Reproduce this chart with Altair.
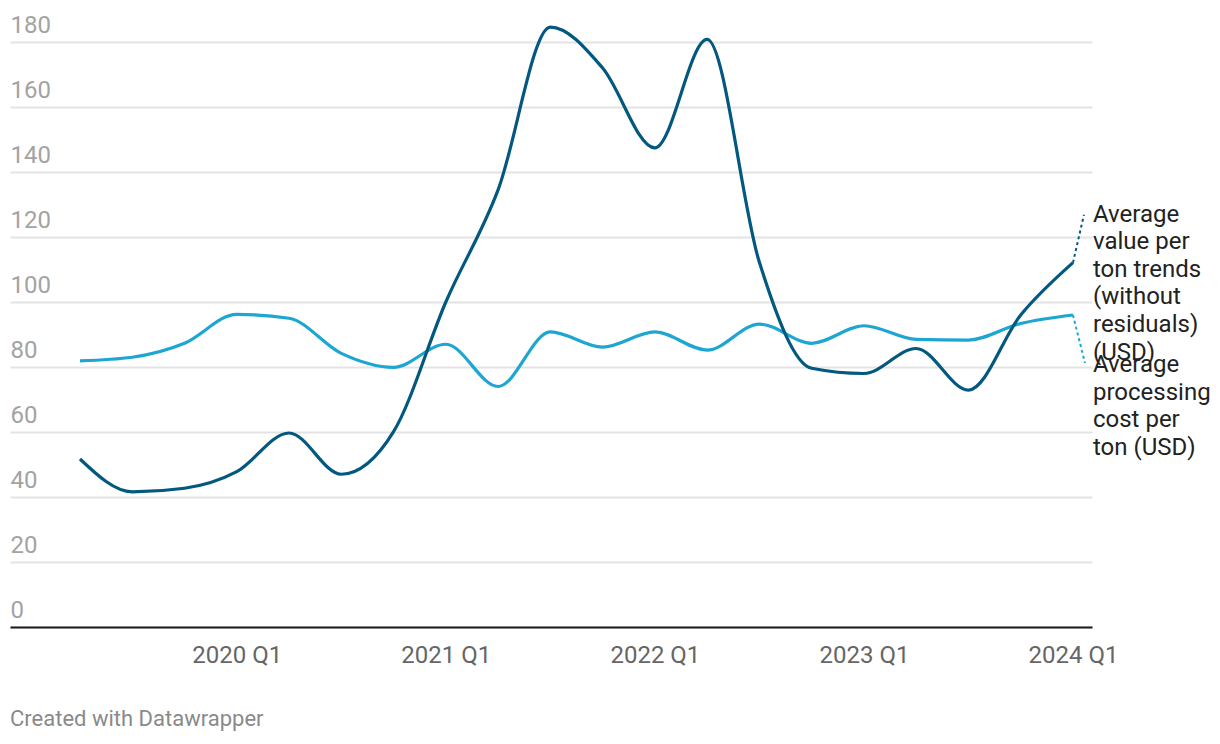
import altair as alt
import pandas as pd

quarters = ["2019 Q2", "2019 Q3", "2019 Q4", "2020 Q1", "2020 Q2", "2020 Q3", "2020 Q4",
            "2021 Q1", "2021 Q2", "2021 Q3", "2021 Q4", "2022 Q1", "2022 Q2", "2022 Q3",
            "2022 Q4", "2023 Q1", "2023 Q2", "2023 Q3", "2023 Q4", "2024 Q1"]

value_per_ton = [51.7, 41.6, 42.7, 47.8, 59.7, 47.0, 60.1, 100.0, 134.5, 184.6,
                 172.0, 147.4, 180.8, 112.2, 79.6, 78.0, 85.7, 72.9, 96.0, 112.1]

processing_cost = [81.9, 83.0, 87.3, 96.2, 95.0, 84.2, 79.9, 87.0, 74.0, 90.8,
                   86.1, 90.8, 85.2, 93.2, 87.3, 92.7, 88.5, 88.3, 93.4, 96.0]

series_names = ["Average value per ton trends (without residuals) (USD)",
                "Average processing cost per ton (USD)"]
series_labels = [["Average", "value per", "ton trends", "(without", "residuals)", "(USD)"],
                 ["Average", "processing", "cost per", "ton (USD)"]]
tick_labels = ["2020 Q1", "2021 Q1", "2022 Q1", "2023 Q1", "2024 Q1"]
y_ticks = [0, 20, 40, 60, 80, 100, 120, 140, 160, 180]

DARK = "#03587f"
LIGHT = "#1ea6d2"
FONT = "Roboto"

idx = list(range(len(quarters)))
df_val = pd.DataFrame({"i": idx, "q": quarters, "v": value_per_ton})
df_cost = pd.DataFrame({"i": idx, "q": quarters, "v": processing_cost})

tick_idx = [quarters.index(t) for t in tick_labels]
label_expr = "{" + ",".join(f"'{i}':'{t}'" for i, t in zip(tick_idx, tick_labels)) + "}[toString(datum.value)]"

W, H = 1082, 585
x_scale = alt.Scale(domain=[-1.339, 19.364], nice=False, zero=False)
y_scale = alt.Scale(domain=[0, 180], nice=False)

x_axis = alt.Axis(values=tick_idx, labelExpr=label_expr, title=None, grid=False,
                  ticks=False, tickSize=0, labelPadding=16, domain=True,
                  domainColor="#1a1a1a", domainWidth=2, labelFont=FONT,
                  labelFontSize=24, labelColor="#666666")
y_axis = alt.Axis(values=y_ticks, title=None, grid=True, gridColor="#e3e3e3",
                  gridWidth=2, domain=False, ticks=False, tickSize=0,
                  labelAlign="left", labelBaseline="alphabetic", labelPadding=0,
                  labelOffset=-10, labelFont=FONT, labelFontSize=24,
                  labelColor="#a3a3a3")

nx = alt.X("i:Q", scale=x_scale, axis=x_axis)
ny = alt.Y("v:Q", scale=y_scale, axis=y_axis)

light_line = alt.Chart(df_cost).mark_line(color=LIGHT, strokeWidth=3.2,
                                          interpolate="monotone").encode(x=nx, y=ny)
dark_line = alt.Chart(df_val).mark_line(color=DARK, strokeWidth=3.2,
                                        interpolate="monotone").encode(x=nx, y=ny)

# end labels and dotted connectors, anchored at each series' last point
px_per_i = W / (19.364 + 1.339)
px_per_v = H / 180.0
last = len(quarters) - 1
ends = pd.DataFrame({
    "i": [last, last],
    "v": [value_per_ton[-1], processing_cost[-1]],
    "i2": [last + 11 / px_per_i, last + 12 / px_per_i],
    "v2": [value_per_ton[-1] + 48 / px_per_v, processing_cost[-1] - 48 / px_per_v],
    "s": series_names,
})

conn_dark = alt.Chart(ends.iloc[[0]]).mark_rule(color=DARK, strokeWidth=2,
                                                strokeDash=[3, 3]).encode(
    x=nx, y=ny, x2="i2:Q", y2="v2:Q")
conn_light = alt.Chart(ends.iloc[[1]]).mark_rule(color=LIGHT, strokeWidth=2,
                                                 strokeDash=[3, 3]).encode(
    x=nx, y=ny, x2="i2:Q", y2="v2:Q")

lab_dark = alt.Chart(pd.DataFrame({"i": [last], "v": [value_per_ton[-1]],
                                   "t": ["\n".join(series_labels[0])]})).mark_text(
    align="left", baseline="alphabetic", dx=20, dy=-41, font=FONT, fontSize=24,
    color="#222222", lineBreak="\n", lineHeight=27.6).encode(x=nx, y=ny, text="t:N")
lab_light = alt.Chart(pd.DataFrame({"i": [last], "v": [processing_cost[-1]],
                                    "t": ["\n".join(series_labels[1])]})).mark_text(
    align="left", baseline="alphabetic", dx=20, dy=57, font=FONT, fontSize=24,
    color="#222222", lineBreak="\n", lineHeight=27.6).encode(x=nx, y=ny, text="t:N")

chart = alt.layer(light_line, dark_line, conn_dark, conn_light, lab_dark, lab_light).properties(
    width=W, height=H,
    autosize=alt.AutoSizeParams(type="none"),
    padding={"left": 10, "top": 42, "right": 128, "bottom": 117},
    background="white",
    title=alt.TitleParams(text="Created with Datawrapper", orient="bottom", anchor="start",
                          font=FONT, fontSize=22, fontWeight="normal", color="#8a8a8a",
                          offset=42),
).configure_view(strokeWidth=0)

chart.save("out.html", embed_options={"renderer": "svg", "actions": False})
